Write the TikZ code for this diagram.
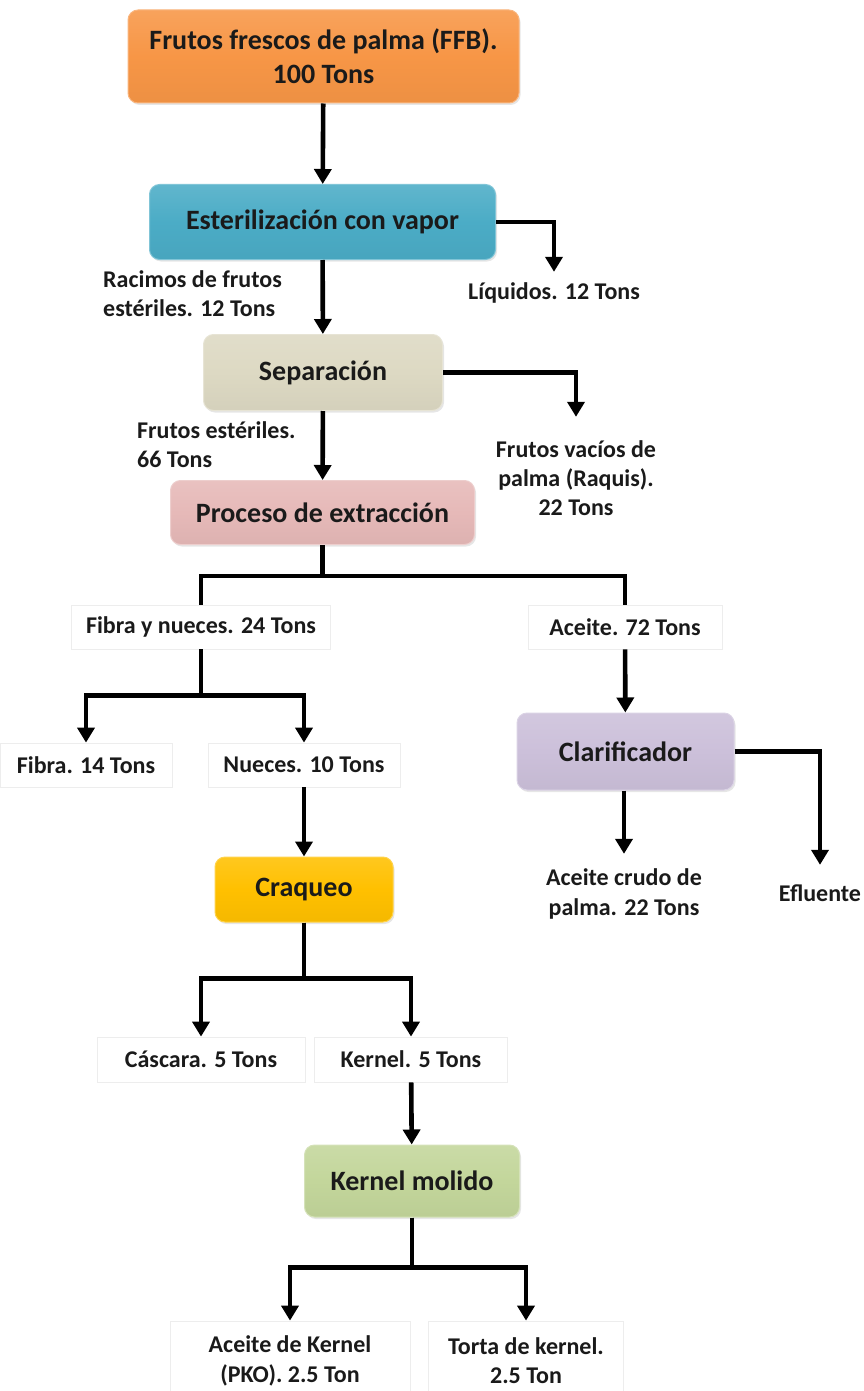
\documentclass[tikz,border=0pt]{standalone}
\usepackage{fontspec}
\setmainfont{Carlito}
\usetikzlibrary{arrows.meta,shadows}

\definecolor{cOrange}{HTML}{F79646}
\definecolor{cTeal}{HTML}{4BACC6}
\definecolor{cTan}{HTML}{DDD9C3}
\definecolor{cRose}{HTML}{E6B9B8}
\definecolor{cLilac}{HTML}{CCC0DA}
\definecolor{cGold}{HTML}{FFC000}
\definecolor{cOlive}{HTML}{C3D69B}
\definecolor{cInk}{HTML}{1A1A1A}

\begin{document}
\begin{tikzpicture}[x=1pt,y=-1pt,
  procbox/.style={rounded corners=10pt, align=center, inner sep=0pt,
    font=\fontsize{28}{34}\selectfont\bfseries, text=cInk, line width=1pt,
    drop shadow={opacity=0.2, shadow xshift=1.5pt, shadow yshift=-2pt}},
  fillbox/.style={procbox, draw=#1!70!white, top color=#1!88!white, bottom color=#1!96!black, middle color=#1},
  lbl/.style={align=center, inner sep=0pt, font=\fontsize{24}{29.3}\selectfont\bfseries, text=cInk},
  lblbox/.style={lbl, draw=black!7, fill=white, line width=0.8pt},
  flow/.style={line width=4.6pt, draw=black},
  arr/.style={flow, -{Triangle[length=15pt,width=17pt]}},
]
\useasboundingbox (0,0) rectangle (864,1391);

% ---------- main process boxes ----------
\node[fillbox=cOrange, minimum width=391pt, minimum height=93pt] (ffb) at (323.5,56.5)
  {Frutos frescos de palma (FFB).\\100 Tons};
\node[fillbox=cTeal, minimum width=346pt, minimum height=75pt] (est) at (322.5,222)
  {Esterilización con vapor};
\node[fillbox=cTan, minimum width=239pt, minimum height=76pt] (sep) at (323,372.5)
  {Separación};
\node[fillbox=cRose, minimum width=304pt, minimum height=64pt] (ext) at (322.5,512.5)
  {Proceso de extracción};
\node[fillbox=cLilac, minimum width=217pt, minimum height=77pt] (clar) at (625.5,751.5)
  {Clarificador};
\node[fillbox=cGold, minimum width=178pt, minimum height=65pt] (craq) at (304,889.5)
  {Craqueo};
\node[fillbox=cOlive, minimum width=215pt, minimum height=72pt] (kmol) at (412,1181)
  {Kernel molido};

% ---------- stream labels ----------
\node[lbl, anchor=west, align=left] (rac) at (103,294) {Racimos de frutos\\estériles. 12 Tons};
\node[lbl, minimum height=42pt] (liq) at (554,293) {Líquidos. 12 Tons};
\node[lbl, anchor=west, align=left] (fest) at (137,444.5) {Frutos estériles.\\66 Tons};
\node[lbl, minimum height=122pt] (fvac) at (576,478) {Frutos vacíos de\\palma (Raquis).\\22 Tons};

\node[lblbox, minimum width=259pt, minimum height=44pt] (fyn) at (201,627) {Fibra y nueces. 24 Tons};
\node[lblbox, minimum width=194pt, minimum height=44pt] (ace) at (625,627) {Aceite. 72 Tons};
\node[lblbox, minimum width=172pt, minimum height=44pt] (fib) at (86,765) {Fibra. 14 Tons};
\node[lblbox, minimum width=192pt, minimum height=44pt] (nue) at (304,765) {Nueces. 10 Tons};

\node[lbl, minimum height=80pt] (crude) at (624,894) {Aceite crudo de\\palma. 22 Tons};
\node[lbl, minimum height=56pt] (efl) at (820,893) {Efluente};

\node[lblbox, minimum width=208pt, minimum height=45pt] (casc) at (201,1059.5) {Cáscara. 5 Tons};
\node[lblbox, minimum width=193pt, minimum height=45pt] (kern) at (411,1059.5) {Kernel. 5 Tons};

\node[lblbox, minimum width=240pt, minimum height=80pt] (pko) at (290,1361) {Aceite de Kernel\\(PKO). 2.5 Ton};
\node[lblbox, minimum width=195pt, minimum height=80pt] (torta) at (526,1361) {Torta de kernel.\\2.5 Ton};

% ---------- connectors ----------
\draw[arr] (ffb) -- (est);
\draw[arr] (est.east) -| (liq.north);
\draw[arr] (est) -- (sep);
\draw[arr] (sep.east) -| (fvac.north);
\draw[arr] (sep) -- (ext);

\draw[flow] (ext.south) -- ++(0,31) -| (fyn.north);
\draw[flow] (ext.south) -- ++(0,31) -| (ace.north);

\draw[arr] (fyn.south) -- ++(0,46) -| (fib.north);
\draw[arr] (fyn.south) -- ++(0,46) -| (nue.north);

\draw[arr] (ace) -- (clar);
\draw[arr] (clar.south -| crude.north) -- (crude.north);
\draw[arr] (clar.east) -| (efl.north);

\draw[arr] (nue) -- (craq);
\draw[arr] (craq.south) -- ++(0,56) -| (casc.north);
\draw[arr] (craq.south) -- ++(0,56) -| (kern.north);

\draw[arr] (kern) -- (kmol);
\draw[arr] (kmol.south) -- ++(0,50) -| (pko.north);
\draw[arr] (kmol.south) -- ++(0,50) -| (torta.north);
\end{tikzpicture}
\end{document}
